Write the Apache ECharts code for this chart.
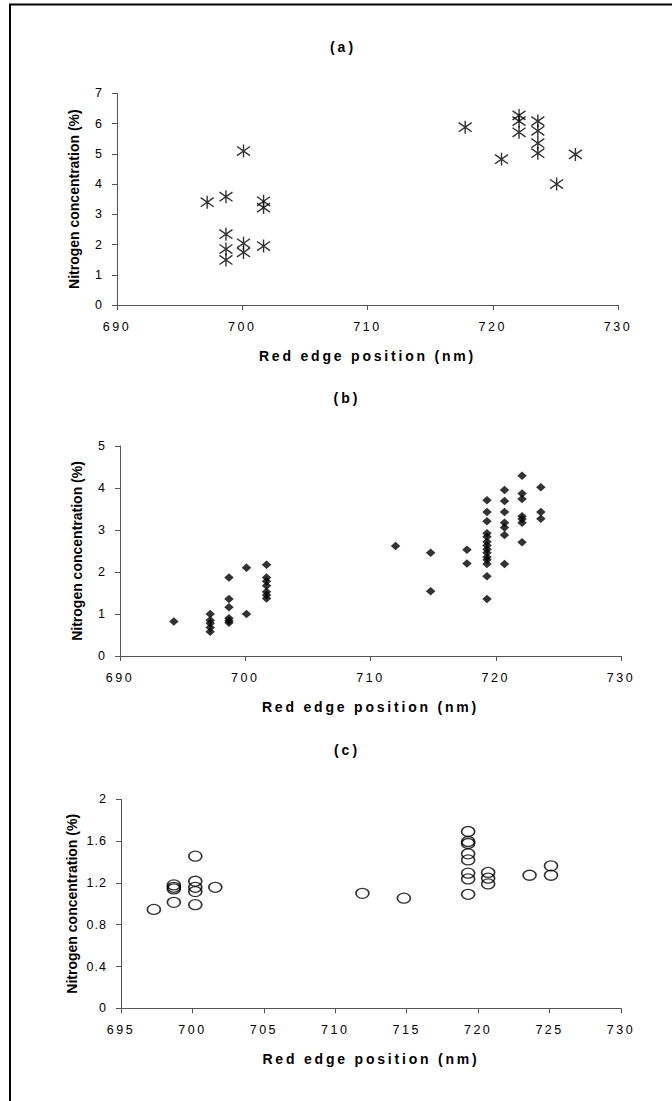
<!DOCTYPE html>
<html><head><meta charset="utf-8">
<script src="https://cdn.jsdelivr.net/npm/echarts@6/dist/echarts.min.js"></script>
<style>html,body{margin:0;padding:0;background:#fff}#c{width:672px;height:1101px}</style>
</head><body><div id="c"></div><script>
// ---- Data ----
// Panel (a)
const aRep = [697.2, 698.7, 698.7, 698.7, 698.7, 700.1, 700.1, 700.1, 701.7, 701.7, 701.7,
              717.8, 720.7, 722.1, 722.1, 722.1, 723.6, 723.6, 723.6, 723.6, 725.1, 726.6];
const aN   = [3.40, 3.58, 2.34, 1.85, 1.49, 5.09, 2.04, 1.74, 3.43, 3.22, 1.95,
              5.88, 4.82, 6.27, 6.08, 5.71, 6.08, 5.76, 5.35, 5.02, 4.00, 4.98];
// Panel (b)
const bRep = [694.3,
              697.2, 697.2, 697.2, 697.2, 697.2,
              698.7, 698.7, 698.7, 698.7, 698.7, 698.7,
              700.1, 700.1,
              701.7, 701.7, 701.7, 701.7, 701.7, 701.7, 701.7,
              712.0, 714.8, 714.8, 717.7, 717.7,
              719.3, 719.3, 719.3, 719.3, 719.3, 719.3, 719.3, 719.3, 719.3, 719.3, 719.3, 719.3, 719.3, 719.3,
              720.7, 720.7, 720.7, 720.7, 720.7, 720.7, 720.7,
              722.1, 722.1, 722.1, 722.1, 722.1, 722.1, 722.1,
              723.6, 723.6, 723.6];
const bN   = [0.82,
              1.00, 0.85, 0.78, 0.68, 0.58,
              1.87, 1.36, 1.16, 0.90, 0.84, 0.79,
              2.10, 1.00,
              2.17, 1.87, 1.78, 1.67, 1.53, 1.45, 1.37,
              2.62, 2.46, 1.54, 2.53, 2.20,
              3.71, 3.43, 3.21, 2.92, 2.84, 2.72, 2.63, 2.54, 2.46, 2.36, 2.29, 2.19, 1.90, 1.36,
              3.95, 3.69, 3.43, 3.17, 3.06, 2.88, 2.19,
              4.29, 3.87, 3.74, 3.33, 3.26, 3.17, 2.71,
              4.02, 3.43, 3.27];
// Panel (c)
const cRep = [697.3,
              698.7, 698.7, 698.7, 698.7,
              700.2, 700.2, 700.2, 700.2, 700.2,
              701.6, 711.9, 714.8,
              719.3, 719.3, 719.3, 719.3, 719.3, 719.3, 719.3, 719.3,
              720.7, 720.7, 720.7,
              723.6, 725.1, 725.1];
const cN   = [0.946,
              1.181, 1.158, 1.142, 1.014,
              1.456, 1.216, 1.158, 1.117, 0.992,
              1.158, 1.100, 1.054,
              1.692, 1.596, 1.577, 1.478, 1.420, 1.293, 1.238, 1.091,
              1.300, 1.245, 1.190,
              1.273, 1.363, 1.273];

const panelTitles = ['(a)', '(b)', '(c)'];
const xTitle = 'Red edge position (nm)';
const yTitle = 'Nitrogen concentration (%)';
// axis ranges
const xRanges = [[690, 730, 10], [690, 730, 10], [695, 730, 5]];
const yRanges = [[0, 7, 1], [0, 5, 1], [0, 2, 0.4]];

// ---- Chart ----
const FONT = '"Liberation Sans", Arial, sans-serif';
const AXC = '#555';
const pairs = (xs, ys) => xs.map((x, i) => [x, ys[i]]);

const grids = [
  {left: 117, top: 93.3, width: 501, height: 211.7},
  {left: 120, top: 446, width: 501, height: 210},
  {left: 121, top: 799.3, width: 500, height: 209}
];

function xAxis(i) {
  const r = xRanges[i];
  return {
    type: 'value', gridIndex: i, min: r[0], max: r[1], interval: r[2],
    name: xTitle, nameLocation: 'middle', nameGap: 44,
    nameTextStyle: {fontFamily: FONT, fontWeight: 'bold', fontSize: 14, color: '#000'},
    axisLine: {onZero: false, lineStyle: {color: AXC, width: 1}},
    axisTick: {show: true, inside: false, length: 5, lineStyle: {color: AXC, width: 1}},
    axisLabel: {margin: 15, fontFamily: FONT, fontSize: 12.5, color: '#000'},
    splitLine: {show: false}
  };
}
function yAxis(i) {
  const r = yRanges[i];
  return {
    type: 'value', gridIndex: i, min: r[0], max: r[1], interval: r[2],
    name: yTitle, nameLocation: 'middle', nameGap: 36,
    nameTextStyle: {fontFamily: FONT, fontWeight: 'bold', fontSize: 14, color: '#000'},
    axisLine: {show: true, onZero: false, lineStyle: {color: AXC, width: 1}},
    axisTick: {show: true, inside: false, length: 5, lineStyle: {color: AXC, width: 1}},
    axisLabel: {margin: 14, fontFamily: FONT, fontSize: 12.5, color: '#000'},
    splitLine: {show: false}
  };
}

const titleY = [46.5, 398, 750];
const titleX = [343, 347, 347];

const option = {
  animation: false,
  backgroundColor: '#fff',
  grid: grids,
  xAxis: [0, 1, 2].map(xAxis),
  yAxis: [0, 1, 2].map(yAxis),
  graphic: [
    {type: 'rect', silent: true, shape: {x: 10, y: 4.5, width: 700, height: 1200},
     style: {fill: 'none', stroke: '#000', lineWidth: 2}},
  ].concat(panelTitles.map((t, i) => ({
    type: 'text', x: titleX[i], y: titleY[i], silent: true,
    style: {text: t, textAlign: 'center', textVerticalAlign: 'middle',
            font: 'bold 14px ' + FONT, fill: '#000'}
  }))),
  series: [
    {
      type: 'scatter', xAxisIndex: 0, yAxisIndex: 0, data: pairs(aRep, aN),
      symbol: 'path://M0,0L0,20M-10,3L10,17M-10,17L10,3', symbolSize: [13, 13],
      itemStyle: {color: '#000', borderColor: '#000', borderWidth: 1.4}
    },
    {
      type: 'scatter', xAxisIndex: 1, yAxisIndex: 1, data: pairs(bRep, bN),
      symbol: 'diamond', symbolSize: [9.5, 8.5],
      itemStyle: {color: '#000'}
    },
    {
      type: 'scatter', xAxisIndex: 2, yAxisIndex: 2, data: pairs(cRep, cN),
      symbol: 'path://M0,5A6.5,5,0,1,1,13,5A6.5,5,0,1,1,0,5Z', symbolSize: [13, 10],
      itemStyle: {color: 'rgba(0,0,0,0)', borderColor: '#000', borderWidth: 1.5}
    }
  ]
};

const chart = echarts.init(document.getElementById('c'), null, {renderer: 'svg', width: 672, height: 1101});
chart.setOption(option);

// letter spacing as in the reference (spaced-out labels)
function applySpacing() {
  document.querySelectorAll('#c svg text').forEach(t => {
    const s = t.textContent || '';
    if (s.indexOf('Nitrogen') >= 0) return;
    const anchor = t.getAttribute('text-anchor');
    if (s === xTitle) t.setAttribute('letter-spacing', '2.8');
    else if (panelTitles.indexOf(s) >= 0) t.setAttribute('letter-spacing', '3');
    else if (/^[\d.]+$/.test(s)) {
      if (anchor === 'end') t.setAttribute('letter-spacing', '1');
      else t.setAttribute('letter-spacing', '2.5');
    }
  });
}
applySpacing();
chart.on('finished', applySpacing);
requestAnimationFrame(applySpacing);
setTimeout(applySpacing, 30);
setTimeout(applySpacing, 200);
</script></body></html>
